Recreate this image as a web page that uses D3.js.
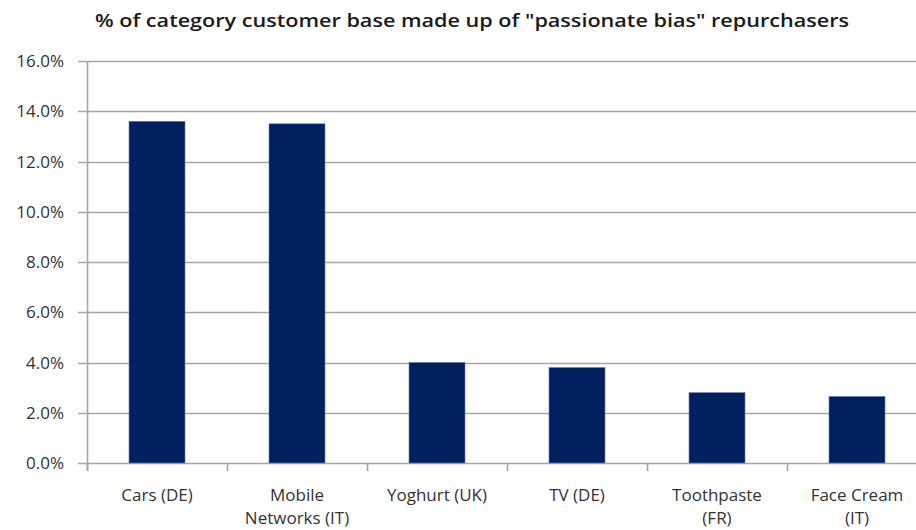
<!DOCTYPE html>
<html>
<head>
<meta charset="utf-8">
<script src="https://cdn.jsdelivr.net/npm/d3@7"></script>
<style>
  html, body { margin: 0; padding: 0; background: #ffffff; }
  svg { display: block; }
  text { font-family: "Open Sans", "DejaVu Sans", sans-serif; }
</style>
</head>
<body>
<svg id="chart" width="916" height="530"></svg>
<script>
// Share of each category's customer base who are "passionate bias" repurchasers
const categories = [
  ["Cars (DE)"],
  ["Mobile", "Networks (IT)"],
  ["Yoghurt (UK)"],
  ["TV (DE)"],
  ["Toothpaste", "(FR)"],
  ["Face Cream", "(IT)"]
];
const values = [13.6, 13.5, 4.0, 3.8, 2.8, 2.65];
const yTicks = [0, 2, 4, 6, 8, 10, 12, 14, 16];
const titleText = '% of category customer base made up of "passionate bias" repurchasers';

const svg = d3.select("#chart");
const plotLeft = 87, plotBottom = 463, plotTop = 61;
const step = 140;
const keys = categories.map(c => c.join(" "));

const x = d3.scaleBand()
  .domain(keys)
  .range([plotLeft, plotLeft + step * keys.length])
  .paddingInner(0.6)
  .paddingOuter(0.3);

const y = d3.scaleLinear().domain([0, 16]).range([plotBottom, plotTop]);

// Title
svg.append("text")
  .attr("x", 472)
  .attr("y", 27)
  .attr("text-anchor", "middle")
  .attr("font-size", 18)
  .attr("font-weight", 600)
  .attr("fill", "#1a1a1a")
  .attr("textLength", 754)
  .attr("lengthAdjust", "spacingAndGlyphs")
  .text(titleText);

// Horizontal gridlines
svg.append("g")
  .selectAll("line")
  .data(yTicks)
  .join("line")
  .attr("x1", plotLeft - 9)
  .attr("x2", 916)
  .attr("y1", d => Math.round(y(d)) + 0.5)
  .attr("y2", d => Math.round(y(d)) + 0.5)
  .attr("stroke", "#a6a6a6")
  .attr("stroke-width", 1.6);

// Y axis labels
svg.append("g")
  .selectAll("text")
  .data(yTicks)
  .join("text")
  .attr("x", 64)
  .attr("y", d => y(d) + 6)
  .attr("text-anchor", "end")
  .attr("font-size", 17)
  .attr("fill", "#333")
  .text(d => d.toFixed(1) + "%");

// Y axis line
svg.append("line")
  .attr("x1", plotLeft + 0.5).attr("x2", plotLeft + 0.5)
  .attr("y1", plotTop).attr("y2", plotBottom + 8)
  .attr("stroke", "#a6a6a6")
  .attr("stroke-width", 1.6);

// Category tick marks on the baseline
const tickXs = d3.range(keys.length + 1).map(i => plotLeft + i * step);
svg.append("g")
  .selectAll("line")
  .data(tickXs)
  .join("line")
  .attr("x1", d => d + 0.5).attr("x2", d => d + 0.5)
  .attr("y1", plotBottom).attr("y2", plotBottom + 8)
  .attr("stroke", "#a6a6a6")
  .attr("stroke-width", 1.6);

// Bars
svg.append("g")
  .selectAll("rect")
  .data(values)
  .join("rect")
  .attr("x", (d, i) => x(keys[i]))
  .attr("width", x.bandwidth())
  .attr("y", d => y(d))
  .attr("height", d => plotBottom - y(d))
  .attr("fill", "#002060")
  .attr("stroke", "#6a7fae")
  .attr("stroke-width", 0.6);

// Category labels (wrapped onto two lines where needed)
const labels = svg.append("g")
  .selectAll("text")
  .data(categories)
  .join("text")
  .attr("text-anchor", "middle")
  .attr("font-size", 17)
  .attr("fill", "#333");

labels.each(function (lines, i) {
  const cx = x(keys[i]) + x.bandwidth() / 2;
  d3.select(this).selectAll("tspan")
    .data(lines)
    .join("tspan")
    .attr("x", cx)
    .attr("y", (d, j) => 501 + j * 23)
    .text(d => d);
});
</script>
</body>
</html>
